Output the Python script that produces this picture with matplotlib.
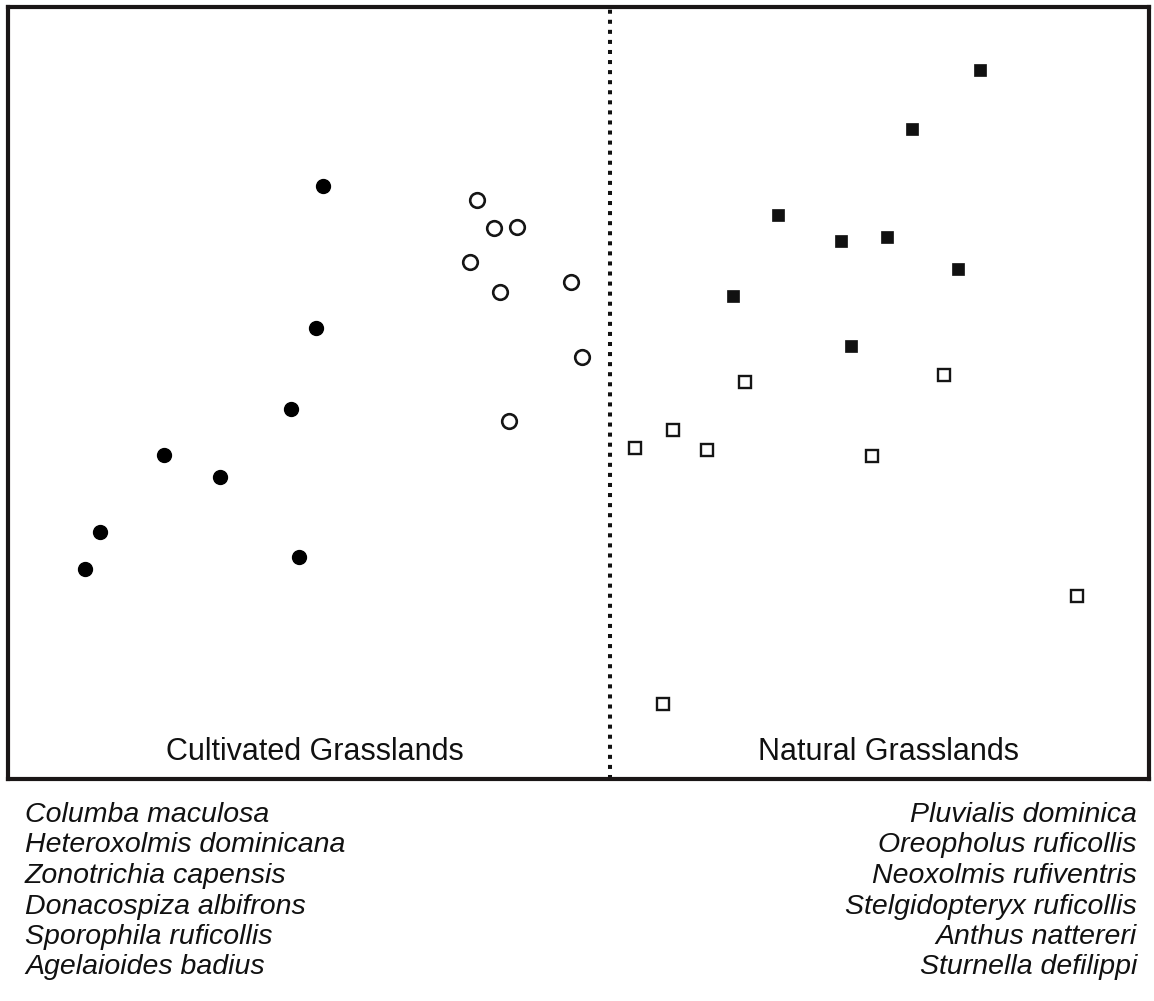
import matplotlib
matplotlib.use("Agg")
import matplotlib.pyplot as plt

plt.rcParams['font.family'] = ['Liberation Sans', 'DejaVu Sans']

# Ordination scores (arbitrary units, y grows downward)
cult_fill_x = [323, 316, 291, 164, 220, 100, 85, 299]
cult_fill_y = [186, 328, 409, 455, 477, 532, 569, 557]
cult_open_x = [477, 494, 517, 470, 500, 571, 582, 509]
cult_open_y = [200, 228, 227, 262, 292, 282, 357, 421]
nat_fill_x = [980, 912, 778, 841, 887, 958, 733, 851]
nat_fill_y = [70, 129, 215, 241, 237, 269, 296, 346]
nat_open_x = [745, 944, 673, 635, 707, 872, 1077, 663]
nat_open_y = [382, 375, 430, 448, 450, 456, 596, 704]

divider_x = 610
habitats = ["Cultivated Grasslands", "Natural Grasslands"]
habitat_x = [315, 889]
habitat_y = 752

cultivated_species = ["Columba maculosa", "Heteroxolmis dominicana", "Zonotrichia capensis",
                      "Donacospiza albifrons", "Sporophila ruficollis", "Agelaioides badius"]
natural_species = ["Pluvialis dominica", "Oreopholus ruficollis", "Neoxolmis rufiventris",
                   "Stelgidopteryx ruficollis", "Anthus nattereri", "Sturnella defilippi"]

W, H = 1154, 1001
fig = plt.figure(figsize=(W / 100, H / 100), dpi=100)
x0, x1, y0, y1 = 8, 1149, 7, 779
ax = fig.add_axes([x0 / W, 1 - y1 / H, (x1 - x0) / W, (y1 - y0) / H])
ax.set_xlim(x0, x1)
ax.set_ylim(y1, y0)
ax.set_xticks([])
ax.set_yticks([])
for s in ax.spines.values():
    s.set_linewidth(3.0)
    s.set_color('#1a1616')

ax.plot(cult_fill_x, cult_fill_y, 'o', ms=10, mfc='black', mec='black', mew=1, ls='none')
ax.plot(cult_open_x, cult_open_y, 'o', ms=10.5, mfc='white', mec='#151515', mew=1.9, ls='none')
ax.plot(nat_fill_x, nat_fill_y, 's', ms=8.5, mfc='#111', mec='#111', mew=0.5, ls='none')
ax.plot(nat_open_x, nat_open_y, 's', ms=8.3, mfc='white', mec='#151515', mew=1.7, ls='none')

ax.axvline(divider_x, color='#111', lw=2.9, ls=(0, (1, 1.5)), dash_capstyle='butt')

for name, hx in zip(habitats, habitat_x):
    ax.text(hx, habitat_y, name, ha='center', va='center', fontsize=22, color='#111')

line_y = [815, 845.5, 876, 906.5, 937, 967.5]
for name, yy in zip(cultivated_species, line_y):
    fig.text(25 / W, 1 - yy / H, name, ha='left', va='center', fontsize=20.5, style='italic', color='#111')
for name, yy in zip(natural_species, line_y):
    fig.text(1137 / W, 1 - yy / H, name, ha='right', va='center', fontsize=20.5, style='italic', color='#111')

fig.savefig("out.png", dpi=100)
